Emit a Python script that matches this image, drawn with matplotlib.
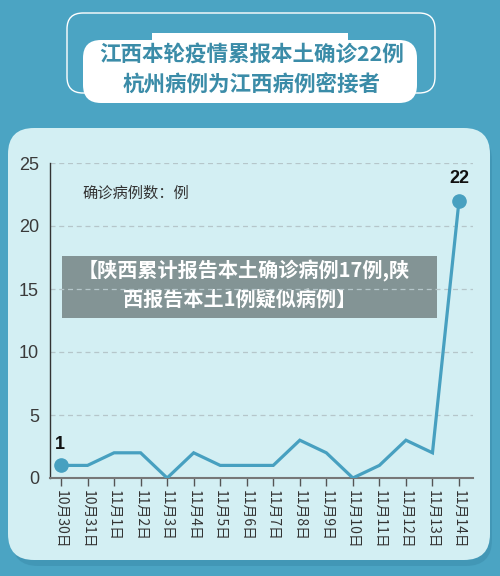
import matplotlib
matplotlib.use("Agg")
import matplotlib.pyplot as plt
from matplotlib.patches import FancyBboxPatch, Rectangle

plt.rcParams['font.family'] = ['Noto Sans CJK SC', 'DejaVu Sans']

# 数据
dates = ["10月30日", "10月31日", "11月1日", "11月2日", "11月3日", "11月4日",
         "11月5日", "11月6日", "11月7日", "11月8日", "11月9日", "11月10日",
         "11月11日", "11月12日", "11月13日", "11月14日"]
cases = [1, 1, 2, 2, 0, 2, 1, 1, 1, 3, 2, 0, 1, 3, 2, 22]
yticks = [0, 5, 10, 15, 20, 25]

title_lines = ["江西本轮疫情累报本土确诊22例", "杭州病例为江西病例密接者"]
unit_label = "确诊病例数：例"
overlay_lines = ["【陕西累计报告本土确诊病例17例,陕", "西报告本土1例疑似病例】"]

bg = "#4ba4c3"
panel = "#d3eff3"
line_c = "#47a0c0"
title_c = "#3b8ca8"

W, H = 500, 576
fig = plt.figure(figsize=(W / 100, H / 100), dpi=100)
fig.patch.set_facecolor(bg)

# fond en pixels
bgax = fig.add_axes([0, 0, 1, 1])
bgax.set_xlim(0, W)
bgax.set_ylim(H, 0)
bgax.axis("off")

# ombre + panneau
bgax.add_patch(FancyBboxPatch((12, 134), 480, 432, boxstyle="round,pad=0,rounding_size=26",
                              fc="#3d8fae", ec="none", alpha=0.6))
bgax.add_patch(FancyBboxPatch((8, 128), 482, 432, boxstyle="round,pad=0,rounding_size=26",
                              fc=panel, ec="none"))

# cadre du titre
bgax.add_patch(FancyBboxPatch((67, 13), 368, 80, boxstyle="round,pad=0,rounding_size=16",
                              fc="none", ec="white", lw=1.0))
bgax.add_patch(Rectangle((152, 33), 196, 10, fc="white", ec="none"))
bgax.add_patch(FancyBboxPatch((83, 40), 334, 63, boxstyle="round,pad=0,rounding_size=18",
                              fc="white", ec="none"))
bgax.text(252, 55, title_lines[0], ha="center", va="center", fontsize=15.5,
          fontweight="heavy", color=title_c)
bgax.text(252, 85, title_lines[1], ha="center", va="center", fontsize=15.5,
          fontweight="heavy", color=title_c)

# graphique
ax = fig.add_axes([50 / W, 1 - 478 / H, 423 / W, (478 - 163) / H])
ax.set_facecolor("none")
x = list(range(len(dates)))
ax.plot(x, cases, color=line_c, lw=2.3, solid_joinstyle="miter", zorder=3)
ax.plot([x[0], x[-1]], [cases[0], cases[-1]], "o", color=line_c, ms=9.5, zorder=4)
ax.text(x[0] - 0.05, cases[0] + 0.95, str(cases[0]), ha="center", va="bottom",
        fontsize=13, fontweight="bold", color="#111111", family="Liberation Sans")
ax.text(x[-1], cases[-1] + 1.1, str(cases[-1]), ha="center", va="bottom",
        fontsize=13, fontweight="bold", color="#111111", family="Liberation Sans")

ax.set_xlim(-11 / 26.53, 15 + 14 / 26.53)
ax.set_ylim(0, 25)
ax.set_yticks(yticks)
ax.set_yticklabels([str(v) for v in yticks], family="Liberation Sans",
                   fontsize=13, color="#3a3a3a")
ax.set_xticks(x)
ax.set_xticklabels(dates, rotation=270, fontsize=10, color="#333333")
ax.tick_params(axis="y", length=0, pad=8)
ax.tick_params(axis="x", length=6, width=1, color="#555555", pad=3)
for v in yticks[1:]:
    ax.axhline(v, color="#b5c6ca", lw=0.9, ls=(0, (4, 3)), zorder=1)
for s in ["top", "right"]:
    ax.spines[s].set_visible(False)
ax.spines["left"].set_color("#333333")
ax.spines["left"].set_linewidth(1)
ax.spines["bottom"].set_color("#777777")
ax.spines["bottom"].set_linewidth(1.5)

ax.text(82, 193, unit_label, transform=bgax.transData, ha="left", va="center",
        fontsize=11, color="#333333")

# bandeau gris
bgax.add_patch(Rectangle((62, 256), 375, 62, fc="#7f8f90", ec="none", alpha=0.95, zorder=5))
bgax.text(244, 271, overlay_lines[0], ha="center", va="center", fontsize=14.5,
          fontweight="bold", color="white", zorder=6)
bgax.text(240, 299, overlay_lines[1], ha="center", va="center", fontsize=14.5,
          fontweight="bold", color="white", zorder=6)
bgax.set_zorder(0)
ax.set_zorder(1)

fig.savefig("out.png", dpi=100, facecolor=fig.get_facecolor())
